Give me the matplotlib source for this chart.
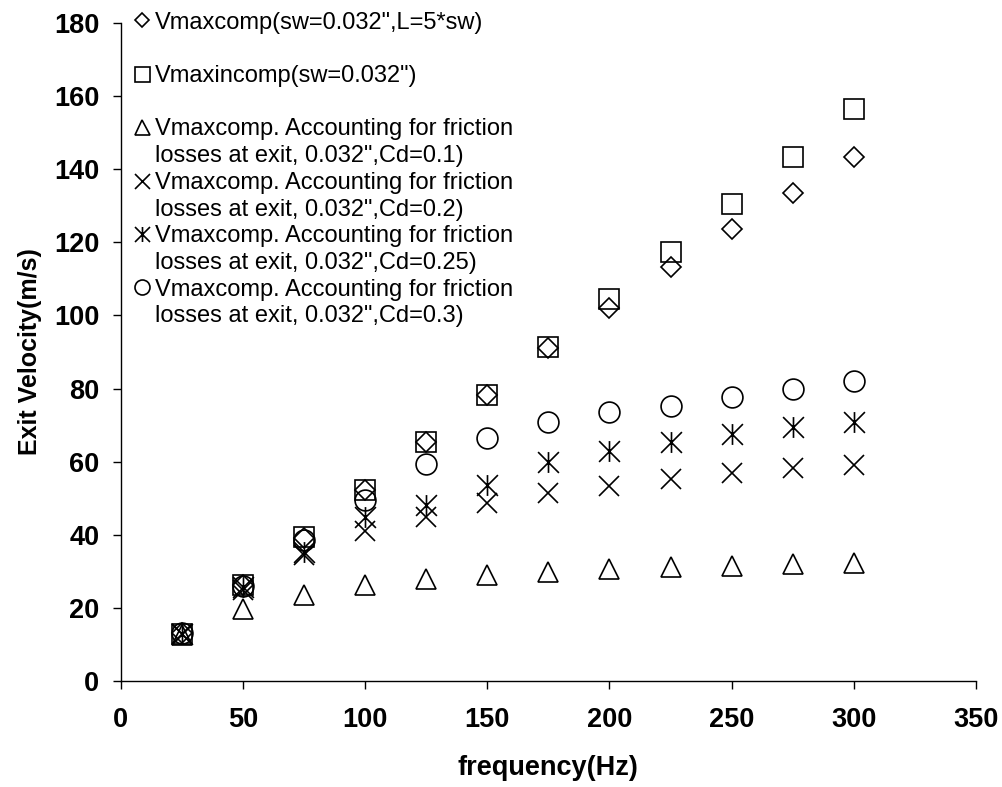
import matplotlib

matplotlib.use("Agg")

import matplotlib.pyplot as plt
from matplotlib.lines import Line2D
from matplotlib.path import Path

# frequency (Hz)
freq = [25, 50, 75, 100, 125, 150, 175, 200, 225, 250, 275, 300]

# exit velocity (m/s) per series
v_comp = [13.0, 26.3, 39.0, 52.3, 65.3, 78.2, 91.0, 101.9, 113.2, 123.6, 133.4, 143.4]
v_incomp = [12.9, 26.2, 39.3, 52.2, 65.4, 78.2, 91.4, 104.5, 117.4, 130.4, 143.4, 156.4]
v_cd01 = [12.5, 19.7, 23.6, 26.2, 27.8, 29.0, 29.9, 30.5, 31.1, 31.5, 32.0, 32.4]
v_cd02 = [12.8, 25.0, 34.5, 40.9, 44.9, 48.6, 51.3, 53.3, 55.3, 56.8, 58.2, 59.1]
v_cd025 = [12.9, 25.8, 35.4, 44.9, 48.1, 53.5, 60.0, 63.0, 65.5, 67.6, 69.6, 70.9]
v_cd03 = [13.0, 26.0, 38.6, 49.5, 59.4, 66.4, 70.9, 73.7, 75.3, 77.8, 80.0, 82.1]

labels = [
    ("Vmaxcomp(sw=0.032\",L=5*sw)", ""),
    ("Vmaxincomp(sw=0.032\")", ""),
    ("Vmaxcomp. Accounting for friction", "losses at exit, 0.032\",Cd=0.1)"),
    ("Vmaxcomp. Accounting for friction", "losses at exit, 0.032\",Cd=0.2)"),
    ("Vmaxcomp. Accounting for friction", "losses at exit, 0.032\",Cd=0.25)"),
    ("Vmaxcomp. Accounting for friction", "losses at exit, 0.032\",Cd=0.3)"),
]

# Excel style star: an x with a vertical bar through it
STAR = Path(
    [(-1, -1), (1, 1), (-1, 1), (1, -1), (0, -1), (0, 1)],
    [Path.MOVETO, Path.LINETO, Path.MOVETO, Path.LINETO, Path.MOVETO, Path.LINETO],
)

series = [
    (v_comp, "D", 10.6),
    (v_incomp, "s", 15),
    (v_cd01, "^", 15),
    (v_cd02, "x", 15),
    (v_cd025, STAR, 15),
    (v_cd03, "o", 15),
]

plt.rcParams["font.family"] = ["Liberation Sans", "DejaVu Sans"]

fig = plt.figure(figsize=(10.03, 7.87), dpi=100)
ax = fig.add_axes([0.1203, 0.1347, 0.8528, 0.8361])

handles = []
for values, marker, size in series:
    (line,) = ax.plot(
        freq,
        values,
        linestyle="none",
        marker=marker,
        markersize=size,
        markerfacecolor="none",
        markeredgecolor="black",
        markeredgewidth=1.2,
        clip_on=False,
    )
    handles.append(line)

ax.set_xlim(0, 350)
ax.set_ylim(0, 180)
ax.set_xticks(range(0, 351, 50))
ax.set_yticks(range(0, 181, 20))
ax.spines[["top", "right"]].set_visible(False)
for side in ("left", "bottom"):
    ax.spines[side].set_linewidth(1.0)
ax.tick_params(direction="out", length=5.8, width=1.0, labelsize=19.5)
ax.tick_params(axis="x", pad=13)
ax.tick_params(axis="y", pad=9.5)
for lab in ax.get_xticklabels() + ax.get_yticklabels():
    lab.set_fontweight("bold")

ax.set_xlabel("frequency(Hz)", fontsize=19.5, fontweight="bold", labelpad=16)
ax.set_ylabel("Exit Velocity(m/s)", fontsize=18, fontweight="bold", labelpad=8.5)

# one legend row per text line, continuation rows get an empty handle
blank = Line2D([], [], linestyle="none")
leg_handles, leg_labels = [], []
for handle, (first, second) in zip(handles, labels):
    leg_handles += [handle, blank]
    leg_labels += [first, second if second else " "]

fig.legend(
    leg_handles,
    leg_labels,
    loc="upper left",
    bbox_to_anchor=(133 / 1003, 1 - 11.5 / 787),
    frameon=False,
    fontsize=17,
    markerscale=0.72,
    handlelength=0.78,
    handletextpad=0.15,
    labelspacing=0.20,
    borderpad=0,
    borderaxespad=0,
)

fig.savefig("out.png", dpi=100)
